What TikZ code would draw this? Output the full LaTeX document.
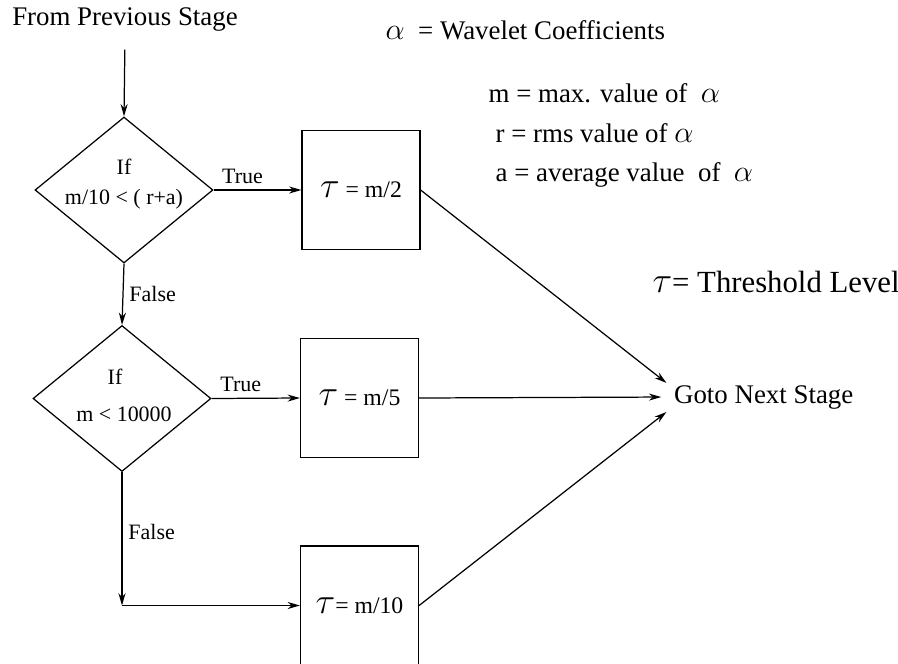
\documentclass[tikz,border=0pt]{standalone}
\usepackage{fontspec}
\setmainfont{Liberation Serif}
\usetikzlibrary{shapes.geometric,arrows.meta,positioning,calc}

\newcommand{\bigtau}{{\fontsize{22}{22}\selectfont$\tau$}}
\newcommand{\bigalpha}{{\fontsize{19}{19}\selectfont$\alpha$}}

\begin{document}
\begin{tikzpicture}[x=0.02cm,y=-0.02cm,line width=0.7pt,
    arr/.style={-{Stealth[length=7pt,width=4pt]}},
    decision/.style={diamond,draw,minimum width=3.56cm,minimum height=2.92cm,inner sep=0pt},
    block/.style={rectangle,draw,minimum width=2.36cm,minimum height=2.38cm,inner sep=0pt,font=\fontsize{13.5}{16}\selectfont},
    small/.style={font=\fontsize{12.5}{15}\selectfont},
    big/.style={font=\fontsize{15.3}{18}\selectfont}]
   \useasboundingbox (0,0) rectangle (898,663);
   \clip (0,0) rectangle (898,663);

   % decisions
   \node[big] (prev) at (125,19) {From Previous Stage};
   \node[decision] (d1) at (124,190) {};
   \node[small] (if1) at (124,167) {If};
   \node[small] (c1) at (124,199) {m/10 < ( r+a)};
   \node[decision] (d2) at (122,398.5) {};
   \node[small] (if2) at (115,377) {If};
   \node[small] (c2) at (124,414) {m < 10000};

   % threshold choices
   \node[block] (b1) at (361,190) {\bigtau\ = m/2};
   \node[block] (b2) at (359.5,398) {\bigtau\ = m/5};
   \node[block] (b3) at (359.5,605.5) {\bigtau= m/10};
   \coordinate (turn) at (d2.south |- b3.west);

   \node[big,anchor=west,inner sep=2pt] (next) at (670,397) {Goto Next Stage};
   \coordinate (nextup) at ([xshift=-2pt,yshift=8pt]next.west);
   \coordinate (nextlow) at ([xshift=-2pt,yshift=-8.5pt]next.west);

   % legend
   \node[big,anchor=west,inner sep=0pt] (alpha) at (385,30) {\bigalpha\ \ = Wavelet Coefficients};
   \node[big,anchor=west,inner sep=0pt] (mdef) at (488,93) {m = max. value of \ \bigalpha};
   \node[big,anchor=west,inner sep=0pt] (rdef) at (495,133) {r = rms value of \bigalpha};
   \node[big,anchor=west,inner sep=0pt] (adef) at (495,175) {a = average value \ of \ \bigalpha};
   \node[anchor=west,inner sep=0pt,font=\fontsize{17.5}{20}\selectfont] (tdef) at (652,282) {\bigtau= Threshold Level};

   % connectors
   \draw[arr,shorten <=7pt] (prev.south) -- (d1.north);
   \draw[arr] (d1.east) -- node[small,above,pos=0.33]{True} (b1.west);
   \draw[arr] (d1.south) -- node[small,right]{False} (d2.north);
   \draw[arr] (d2.east) -- node[small,above,pos=0.33]{True} (b2.west);
   \draw[arr] (d2.south) -- node[small,right,pos=0.45]{False} (turn);
   \draw[arr] (turn) -- (b3.west);
   \draw[arr] (b1.east) -- (nextup);
   \draw[arr,shorten >=5pt] (b2.east) -- (next.west);
   \draw[arr] (b3.east) -- (nextlow);
\end{tikzpicture}
\end{document}
